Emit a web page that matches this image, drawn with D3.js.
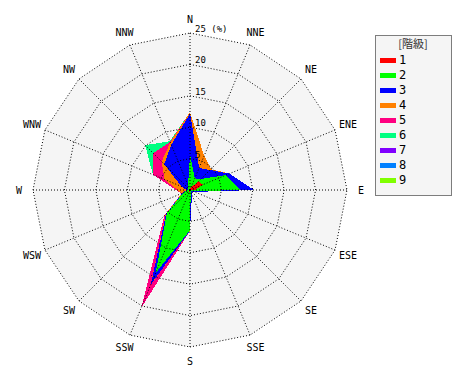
<!DOCTYPE html>
<html>
<head>
<meta charset="utf-8">
<script src="https://cdn.jsdelivr.net/npm/d3@7"></script>
<style>
  body { margin: 0; background: #fff; }
  svg { display: block; }
  text { font-family: "DejaVu Sans Mono", monospace; fill: #000; }
</style>
</head>
<body>
<div id="chart"></div>
<script>
// wind directions, clockwise from north
const directions = ["N", "NNE", "NE", "ENE", "E", "ESE", "SE", "SSE",
  "S", "SSW", "SW", "WSW", "W", "WNW", "NW", "NNW"];

// frequency (%) of each class per direction
const class1 = [0.2, 0.5, 2.0, 2.2, 0.8, 0.2, 0.2, 0.2, 0.3, 0.3, 0.2, 0.2, 0.2, 0.2, 0.2, 0.2];
const class2 = [5.4, 1.5, 0.5, 4.0, 7.3, 0.3, 0.1, 0.1, 6.1, 14.0, 5.0, 1.0, 0.2, 0.2, 0.3, 0.6];
const class3 = [6.6, 1.8, 2.0, 0.6, 2.1, 0.3, 0.1, 0.5, 0.1, 2.0, 0.2, 0.1, 0.2, 1.1, 5.3, 7.0];
const class4 = [0.2, 2.1, 0.2, 0, 0, 0, 0, 0, 0, 0.1, 0.1, 0.1, 1.4, 2.9, 0.6, 0.4];
const class5 = [0, 0, 0, 0, 0, 0, 0, 0, 0, 3.9, 0.3, 0.1, 0.2, 2.0, 1.9, 0.1];
const class6 = [0, 0, 0, 0, 0, 0, 0, 0, 0, 0, 0, 0, 0, 0, 1.8, 0.1];
const class7 = [0, 0, 0, 0, 0, 0, 0, 0, 0, 0, 0, 0, 0, 0, 0, 0];
const class8 = [0, 0, 0, 0, 0, 0, 0, 0, 0, 0, 0, 0, 0, 0, 0, 0];
const class9 = [0, 0, 0, 0, 0, 0, 0, 0, 0, 0, 0, 0, 0, 0, 0, 0];

const classNames = ["1", "2", "3", "4", "5", "6", "7", "8", "9"];
const classColors = ["#ff0000", "#00ff00", "#0000ff", "#ff8000", "#ff0080",
  "#00ff80", "#8000ff", "#0080ff", "#80ff00"];
const ringTicks = [5, 10, 15, 20, 25];

const series = [class1, class2, class3, class4, class5, class6, class7, class8, class9];

const width = 470, height = 380;
const cx = 190, cy = 190;

const svg = d3.select("#chart").append("svg")
  .attr("width", width)
  .attr("height", height);

const r = d3.scaleLinear().domain([0, 25]).range([0, 157]);
const angle = d3.scaleLinear().domain([0, directions.length]).range([0, 2 * Math.PI]);

const g = svg.append("g")
  .attr("transform", "translate(" + cx + "," + cy + ")");

// cumulative values, class by class
let cum = [];
series.forEach(function (s, k) {
  cum.push(s.map(function (v, i) {
    return v + (k > 0 ? cum[k - 1][i] : 0);
  }));
});

const ring = d3.lineRadial()
  .angle(function (d, i) { return angle(i); })
  .radius(function (d) { return r(d); })
  .curve(d3.curveLinearClosed);

// background of the plot
g.append("path")
  .attr("d", ring(directions.map(function () { return 25; })))
  .attr("fill", "#f5f5f5")
  .attr("shape-rendering", "crispEdges");

// stacked polygons, outermost first
for (let k = cum.length - 1; k >= 0; k--) {
  g.append("path")
    .attr("d", ring(cum[k]))
    .attr("fill", classColors[k])
    .attr("shape-rendering", "crispEdges");
}

// grid rings
g.selectAll(".ring")
  .data(ringTicks)
  .enter().append("path")
  .attr("class", "ring")
  .attr("d", function (t) { return ring(directions.map(function () { return t; })); })
  .attr("fill", "none")
  .attr("stroke", "#000")
  .attr("stroke-width", 1)
  .attr("stroke-dasharray", "1,2");

// spokes
g.selectAll(".spoke")
  .data(directions)
  .enter().append("line")
  .attr("class", "spoke")
  .attr("x1", 0).attr("y1", 0)
  .attr("x2", function (d, i) { return r(25) * Math.sin(angle(i)); })
  .attr("y2", function (d, i) { return -r(25) * Math.cos(angle(i)); })
  .attr("stroke", "#000")
  .attr("stroke-width", 1)
  .attr("stroke-dasharray", "1,2");

// ring labels
g.selectAll(".tick")
  .data(ringTicks)
  .enter().append("text")
  .attr("class", "tick")
  .attr("x", 5)
  .attr("y", function (t) { return -r(t) - 1; })
  .attr("font-size", "9px")
  .text(function (t) { return t === 25 ? t + " (%)" : t; });

// direction labels
g.selectAll(".dir")
  .data(directions)
  .enter().append("text")
  .attr("class", "dir")
  .attr("x", function (d, i) { return 171 * Math.sin(angle(i)); })
  .attr("y", function (d, i) { return -171 * Math.cos(angle(i)); })
  .attr("text-anchor", "middle")
  .attr("dominant-baseline", "central")
  .attr("font-size", "10px")
  .text(function (d) { return d; });

// legend
const legend = svg.append("g")
  .attr("transform", "translate(375,35)");

legend.append("rect")
  .attr("x", 0.5).attr("y", 0.5)
  .attr("width", 76).attr("height", 160)
  .attr("fill", "#f5f5f5")
  .attr("stroke", "#000")
  .attr("stroke-dasharray", "1,1");

legend.append("text")
  .attr("x", 38)
  .attr("y", 13)
  .attr("text-anchor", "middle")
  .attr("font-size", "11px")
  .style("font-family", "'Noto Sans CJK JP', sans-serif")
  .style("fill", "#333")
  .text("[階級]");

const item = legend.selectAll(".item")
  .data(classNames)
  .enter().append("g")
  .attr("class", "item")
  .attr("transform", function (d, i) { return "translate(0," + (25 + i * 15) + ")"; });

item.append("rect")
  .attr("x", 5).attr("y", -2)
  .attr("width", 16).attr("height", 5)
  .attr("fill", function (d, i) { return classColors[i]; });

item.append("text")
  .attr("x", 24)
  .attr("y", 0)
  .attr("dominant-baseline", "central")
  .attr("font-size", "12px")
  .text(function (d) { return d; });
</script>
</body>
</html>
